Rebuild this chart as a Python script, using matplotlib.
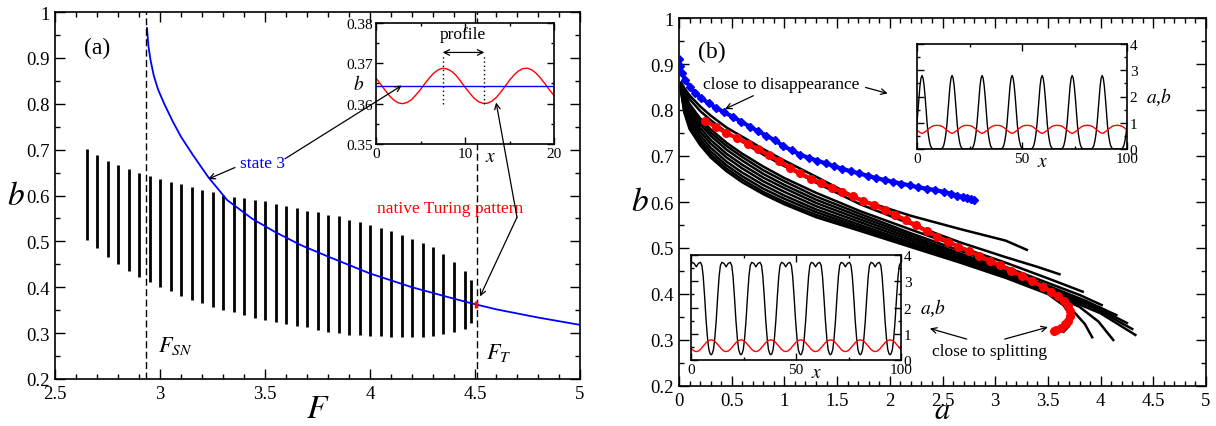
import numpy as np
import matplotlib
matplotlib.use("Agg")
import matplotlib.pyplot as plt
from matplotlib.ticker import MultipleLocator, FuncFormatter

plt.rcParams['font.family'] = ['Liberation Serif', 'DejaVu Serif']
plt.rcParams['mathtext.fontset'] = 'stix'

# ---------- panel (a): b versus F ----------
bar_F = [2.65, 2.70, 2.75, 2.80, 2.85, 2.90, 2.95, 3.00, 3.05, 3.10,
         3.15, 3.20, 3.25, 3.30, 3.35, 3.40, 3.45, 3.50, 3.55, 3.60,
         3.65, 3.70, 3.75, 3.80, 3.85, 3.90, 3.95, 4.00, 4.05, 4.10,
         4.15, 4.20, 4.25, 4.30, 4.35, 4.40, 4.45, 4.48]
bar_top = [0.701, 0.689, 0.675, 0.667, 0.658, 0.650, 0.643, 0.636, 0.630, 0.624,
           0.619, 0.613, 0.608, 0.601, 0.597, 0.595, 0.590, 0.587, 0.581, 0.578,
           0.573, 0.567, 0.563, 0.558, 0.555, 0.547, 0.542, 0.536, 0.529, 0.523,
           0.514, 0.505, 0.496, 0.487, 0.472, 0.456, 0.435, 0.416]
bar_bot = [0.504, 0.485, 0.467, 0.451, 0.436, 0.423, 0.412, 0.401, 0.391, 0.382,
           0.373, 0.366, 0.358, 0.351, 0.345, 0.340, 0.334, 0.329, 0.325, 0.320,
           0.316, 0.313, 0.307, 0.303, 0.300, 0.297, 0.296, 0.294, 0.293, 0.292,
           0.292, 0.292, 0.292, 0.294, 0.298, 0.302, 0.310, 0.322]

state3_F = [2.938, 2.945, 2.955, 2.97, 2.99, 3.02, 3.06, 3.10, 3.16, 3.23, 3.32,
            3.44, 3.55, 3.67, 3.80, 4.00, 4.20, 4.40, 4.50, 4.60, 4.80, 5.00]
state3_b = [0.965, 0.925, 0.895, 0.862, 0.832, 0.800, 0.762, 0.728, 0.686, 0.640, 0.590,
            0.549, 0.520, 0.492, 0.467, 0.430, 0.400, 0.375, 0.363, 0.352, 0.334, 0.318]

F_SN = 2.935
F_T = 4.51
turing_F = 4.505
turing_b = [0.355, 0.369]

# inset: profile along x
prof_x = np.arange(0, 20.5, 0.5)
prof_b = [0.3663, 0.3649, 0.3634, 0.3620, 0.3609, 0.3602, 0.3600, 0.3603, 0.3610, 0.3622,
          0.3635, 0.3650, 0.3664, 0.3676, 0.3684, 0.3688, 0.3686, 0.3680, 0.3670, 0.3656,
          0.3641, 0.3627, 0.3614, 0.3605, 0.3601, 0.3601, 0.3606, 0.3615, 0.3628, 0.3643,
          0.3658, 0.3671, 0.3681, 0.3687, 0.3688, 0.3684, 0.3675, 0.3663, 0.3649, 0.3634,
          0.3620]
state3_level = 0.3645
profile_ends = [7.49, 12.17]

# ---------- panel (b): trajectories in the (a, b) plane ----------
blue_a = [0.0, 0.01, 0.03, 0.06, 0.10, 0.15, 0.21, 0.28, 0.35, 0.43, 0.51, 0.59, 0.67,
          0.75, 0.83, 0.91, 0.99, 1.07, 1.15, 1.23, 1.31, 1.39, 1.47, 1.55, 1.63, 1.71,
          1.79, 1.87, 1.95, 2.03, 2.11, 2.19, 2.27, 2.35, 2.43, 2.51, 2.58, 2.64, 2.69,
          2.73, 2.77, 2.80]
blue_b = [0.910, 0.895, 0.880, 0.865, 0.851, 0.838, 0.826, 0.815, 0.805, 0.795, 0.785,
          0.775, 0.764, 0.754, 0.744, 0.734, 0.722, 0.712, 0.703, 0.696, 0.690, 0.684,
          0.678, 0.672, 0.667, 0.662, 0.657, 0.652, 0.648, 0.644, 0.640, 0.636, 0.632,
          0.629, 0.626, 0.622, 0.618, 0.614, 0.611, 0.608, 0.606, 0.604]

red_a = [0.25, 0.35, 0.45, 0.55, 0.65, 0.75, 0.85, 0.95, 1.05, 1.15, 1.25, 1.35, 1.45,
         1.55, 1.65, 1.75, 1.85, 1.95, 2.05, 2.15, 2.25, 2.35, 2.45, 2.55, 2.65, 2.75,
         2.85, 2.95, 3.05, 3.15, 3.25, 3.35, 3.45, 3.53, 3.60, 3.65, 3.69, 3.71, 3.71,
         3.69, 3.66, 3.62, 3.58, 3.56]
red_b = [0.777, 0.763, 0.750, 0.739, 0.727, 0.715, 0.702, 0.689, 0.675, 0.662, 0.651,
         0.641, 0.631, 0.622, 0.612, 0.602, 0.593, 0.583, 0.572, 0.561, 0.549, 0.537,
         0.525, 0.514, 0.503, 0.493, 0.483, 0.472, 0.462, 0.451, 0.440, 0.428, 0.416,
         0.405, 0.395, 0.385, 0.374, 0.363, 0.352, 0.342, 0.334, 0.327, 0.322, 0.319]

bundle_a = [0.02, 0.05, 0.1, 0.2, 0.3, 0.45, 0.6, 0.8, 1.0, 1.3, 1.72, 2.2, 2.67, 3.1]
bundle_b = [
    [0.860, 0.848, 0.832, 0.808, 0.788, 0.762, 0.742, 0.715, 0.690, 0.655, 0.605, 0.570, 0.541, 0.516],
    [0.858, 0.843, 0.824, 0.798, 0.778, 0.752, 0.731, 0.703, 0.678, 0.642, 0.595, 0.552, 0.512, 0.480],
    [0.855, 0.836, 0.813, 0.782, 0.758, 0.729, 0.705, 0.677, 0.652, 0.620, 0.580, 0.540, 0.502, 0.468],
    [0.853, 0.832, 0.808, 0.776, 0.751, 0.722, 0.698, 0.669, 0.645, 0.612, 0.574, 0.532, 0.494, 0.459],
    [0.851, 0.828, 0.802, 0.769, 0.744, 0.714, 0.690, 0.661, 0.637, 0.605, 0.568, 0.527, 0.488, 0.453],
    [0.849, 0.823, 0.795, 0.761, 0.735, 0.705, 0.681, 0.653, 0.630, 0.598, 0.562, 0.522, 0.484, 0.449],
    [0.847, 0.818, 0.788, 0.753, 0.727, 0.697, 0.673, 0.645, 0.622, 0.591, 0.556, 0.517, 0.480, 0.445],
    [0.845, 0.812, 0.780, 0.745, 0.718, 0.688, 0.664, 0.637, 0.614, 0.584, 0.550, 0.512, 0.476, 0.441],
    [0.843, 0.806, 0.772, 0.737, 0.710, 0.680, 0.656, 0.629, 0.607, 0.578, 0.545, 0.508, 0.473, 0.439],
    [0.841, 0.800, 0.765, 0.730, 0.703, 0.673, 0.649, 0.622, 0.600, 0.572, 0.541, 0.505, 0.470, 0.437],
    [0.839, 0.795, 0.759, 0.724, 0.697, 0.667, 0.643, 0.617, 0.595, 0.567, 0.537, 0.502, 0.468, 0.435],
]
tail_a = [[3.3], [3.4, 3.61], [3.5, 3.83], [3.5, 3.8, 4.01], [3.5, 3.85, 4.15],
          [3.5, 3.9, 4.25], [3.5, 3.95, 4.30], [3.5, 4.0, 4.33], [3.5, 3.8, 3.98, 4.12],
          [3.5, 3.72, 3.85, 3.92], [3.5, 3.65, 3.72, 3.70, 3.65]]
tail_b = [[0.496], [0.459, 0.443], [0.434, 0.405], [0.424, 0.398, 0.376],
          [0.418, 0.386, 0.354], [0.414, 0.377, 0.337], [0.410, 0.368, 0.324],
          [0.406, 0.358, 0.311], [0.404, 0.372, 0.340, 0.300],
          [0.402, 0.368, 0.335, 0.306], [0.400, 0.375, 0.350, 0.330, 0.318]]

# one spatial period of each pattern, repeated at the peak positions
peaks_up = [-11.9, 2.4, 16.7, 31.0, 45.3, 59.6, 73.9, 88.2, 102.5]
up_dx = [-7.15, -6.0, -5.0, -4.5, -4.0, -3.5, -3.0, -2.5, -2.0, -1.5, -1.0, -0.5, 0.0,
         0.5, 1.0, 1.5, 2.0, 2.5, 3.0, 3.5, 4.0, 4.5, 5.0, 6.0, 7.15]
up_a = [0.0, 0.0, 0.01, 0.05, 0.13, 0.3, 0.55, 0.9, 1.4, 1.95, 2.4, 2.7, 2.8,
        2.7, 2.4, 1.95, 1.4, 0.9, 0.55, 0.3, 0.13, 0.05, 0.01, 0.0, 0.0]
up_b = [0.90, 0.895, 0.87, 0.85, 0.82, 0.79, 0.76, 0.72, 0.69, 0.66, 0.63, 0.61, 0.60,
        0.61, 0.63, 0.66, 0.69, 0.72, 0.76, 0.79, 0.82, 0.85, 0.87, 0.895, 0.90]

peaks_low = [-11.7, 2.5, 16.7, 30.9, 45.1, 59.3, 73.5, 87.7, 101.9]
low_dx = [-7.1, -6.6, -6.0, -5.4, -4.7, -4.0, -3.3, -2.7, -2.0, -1.0, 0.0,
          1.0, 2.0, 2.7, 3.3, 4.0, 4.7, 5.4, 6.0, 6.6, 7.1]
low_a = [0.2, 0.24, 0.4, 0.8, 1.5, 2.4, 3.2, 3.6, 3.72, 3.68, 3.55,
         3.68, 3.72, 3.6, 3.2, 2.4, 1.5, 0.8, 0.4, 0.24, 0.2]
low_b = [0.77, 0.76, 0.744, 0.71, 0.66, 0.589, 0.53, 0.47, 0.403, 0.342, 0.32,
         0.342, 0.403, 0.47, 0.53, 0.589, 0.66, 0.71, 0.744, 0.76, 0.77]


def tile(peaks, dx, vals):
    xs = np.concatenate([p + np.asarray(dx) for p in peaks])
    ys = np.concatenate([np.asarray(vals) for _ in peaks])
    return xs, ys


def style_ticks(ax, major, minor, size=13.5, pad=4):
    ax.tick_params(which='both', direction='in', top=True, right=True,
                   labelsize=size, pad=pad, width=1.0)
    ax.tick_params(which='major', length=major)
    ax.tick_params(which='minor', length=minor)
    for s in ax.spines.values():
        s.set_linewidth(1.2)


fmt = FuncFormatter(lambda v, p: '%g' % round(v, 4))
arrow = dict(arrowstyle='->', lw=0.9, color='black', shrinkA=0, shrinkB=0)

fig = plt.figure(figsize=(12.16, 4.27), dpi=100)

# ----- panel (a) -----
ax = fig.add_axes([55 / 1216, 1 - 380 / 427, 525 / 1216, 367 / 427])
ax.vlines(bar_F, bar_bot, bar_top, color='black', lw=2.0)
ax.plot(state3_F, state3_b, color='blue', lw=1.3)
ax.vlines(turing_F, turing_b[0], turing_b[1], color='red', lw=2.5, zorder=4)
ax.axvline(F_SN, color='black', lw=1.0, ls=(0, (5, 2.5)))
ax.axvline(F_T, color='black', lw=1.0, ls=(0, (5, 2.5)))
ax.set_xlim(2.5, 5)
ax.set_ylim(0.2, 1)
ax.xaxis.set_major_locator(MultipleLocator(0.5))
ax.xaxis.set_minor_locator(MultipleLocator(0.1))
ax.yaxis.set_major_locator(MultipleLocator(0.1))
ax.yaxis.set_minor_locator(MultipleLocator(0.05))
ax.xaxis.set_major_formatter(fmt)
ax.yaxis.set_major_formatter(fmt)
style_ticks(ax, 7, 3.5)
ax.text(-0.075, 0.5, '$b$', transform=ax.transAxes, fontsize=24, ha='center', va='center')
ax.text(0.5, -0.08, '$F$', transform=ax.transAxes, fontsize=24, ha='center', va='center')
ax.text(2.64, 0.91, '(a)', fontsize=17)
ax.text(2.99, 0.262, '$F_{SN}$', fontsize=16)
ax.text(4.55, 0.245, '$F_T$', fontsize=16)
ax.text(3.49, 0.671, 'state 3', color='blue', fontsize=12.5, ha='center', va='center')
ax.annotate('', xy=(3.23, 0.636), xytext=(3.357, 0.661), arrowprops=arrow)
ax.text(4.38, 0.572, 'native Turing pattern', color='red', fontsize=12.5, ha='center', va='center')
ax.annotate('', xy=(4.524, 0.380), xytext=(4.70, 0.5525), arrowprops=arrow)

ins = fig.add_axes([376 / 1216, 1 - 145 / 427, 178 / 1216, 121 / 427])
ins.plot(prof_x, prof_b, color='red', lw=1.0)
ins.axhline(state3_level, color='blue', lw=1.0)
ins.vlines(profile_ends, 0.3599, 0.3723, color='black', lw=1.0, ls=(0, (1, 2)))
ins.annotate('', xy=(profile_ends[0], 0.3727), xytext=(profile_ends[1], 0.3727),
             arrowprops=dict(arrowstyle='<->', lw=0.9, color='black', shrinkA=0, shrinkB=0))
ins.text(9.8, 0.3773, 'profile', fontsize=12.5, ha='center', va='center')
ins.set_xlim(0, 20)
ins.set_ylim(0.35, 0.38)
ins.xaxis.set_major_locator(MultipleLocator(10))
ins.xaxis.set_minor_locator(MultipleLocator(5))
ins.yaxis.set_major_locator(MultipleLocator(0.01))
ins.yaxis.set_minor_locator(MultipleLocator(0.005))
ins.xaxis.set_major_formatter(fmt)
ins.yaxis.set_major_formatter(FuncFormatter(lambda v, p: '%.2f' % v))
style_ticks(ins, 5, 2.5, size=11, pad=2)
ins.text(-0.095, 0.5, '$b$', transform=ins.transAxes, fontsize=14, ha='center', va='center')
ins.text(0.645, -0.1, '$x$', transform=ins.transAxes, fontsize=14, ha='center', va='center')
ins.annotate('', xy=(2.9, state3_level), xytext=(3.595, 0.680), textcoords=ax.transData,
             arrowprops=arrow, annotation_clip=False)
ins.annotate('', xy=(13.5, 0.3603), xytext=(4.70, 0.5525), textcoords=ax.transData,
             arrowprops=arrow, annotation_clip=False)

# ----- panel (b) -----
bx = fig.add_axes([679 / 1216, 1 - 387 / 427, 527 / 1216, 368 / 427])
for row, ta, tb in zip(bundle_b, tail_a, tail_b):
    bx.plot(bundle_a + ta, row + tb, color='black', lw=1.8)
bx.plot(red_a, red_b, color='red', lw=3, marker='o', ms=5.5, zorder=4)
bx.plot(blue_a, blue_b, color='blue', lw=3, marker='D', ms=4.5, zorder=4)
bx.set_xlim(0, 5)
bx.set_ylim(0.2, 1)
bx.xaxis.set_major_locator(MultipleLocator(0.5))
bx.xaxis.set_minor_locator(MultipleLocator(0.1))
bx.yaxis.set_major_locator(MultipleLocator(0.1))
bx.yaxis.set_minor_locator(MultipleLocator(0.05))
bx.xaxis.set_major_formatter(fmt)
bx.yaxis.set_major_formatter(fmt)
style_ticks(bx, 7, 3.5)
bx.text(-0.075, 0.5, '$b$', transform=bx.transAxes, fontsize=24, ha='center', va='center')
bx.text(0.5, -0.087, '$a$', transform=bx.transAxes, fontsize=22, ha='center', va='baseline')
bx.text(0.18, 0.915, '(b)', fontsize=17)
bx.text(0.97, 0.857, 'close to disappearance', fontsize=12.5, ha='center', va='center')
bx.annotate('', xy=(0.436, 0.802), xytext=(0.705, 0.831), arrowprops=arrow)
bx.annotate('', xy=(1.98, 0.836), xytext=(1.77, 0.849), arrowprops=arrow)
bx.text(2.95, 0.277, 'close to splitting', fontsize=12.5, ha='center', va='center')
bx.annotate('', xy=(2.38, 0.325), xytext=(2.73, 0.302), arrowprops=arrow)
bx.annotate('', xy=(3.50, 0.328), xytext=(3.09, 0.302), arrowprops=arrow)


def pattern_inset(rect, peaks, dx, va_, vb_):
    axi = fig.add_axes(rect)
    xa, ya = tile(peaks, dx, va_)
    xb, yb = tile(peaks, dx, vb_)
    axi.plot(xa, ya, color='black', lw=1.0)
    axi.plot(xb, yb, color='red', lw=1.0)
    axi.set_xlim(0, 100)
    axi.set_ylim(0, 4)
    axi.xaxis.set_major_locator(MultipleLocator(50))
    axi.xaxis.set_minor_locator(MultipleLocator(25))
    axi.yaxis.set_major_locator(MultipleLocator(1))
    axi.yaxis.set_minor_locator(MultipleLocator(0.5))
    axi.xaxis.set_major_formatter(fmt)
    axi.yaxis.set_major_formatter(fmt)
    style_ticks(axi, 5, 2.5, size=11, pad=2)
    axi.tick_params(axis='y', labelleft=False, labelright=True)
    axi.text(1.15, 0.5, '$a$,$b$', transform=axi.transAxes, fontsize=14, ha='center', va='center')
    axi.text(0.6, -0.12, '$x$', transform=axi.transAxes, fontsize=14, ha='center', va='center')
    return axi


pattern_inset([917 / 1216, 1 - 150 / 427, 210 / 1216, 105 / 427], peaks_up, up_dx, up_a, up_b)
pattern_inset([691 / 1216, 1 - 361 / 427, 210 / 1216, 105 / 427], peaks_low, low_dx, low_a, low_b)

fig.savefig('out.png', dpi=100)
